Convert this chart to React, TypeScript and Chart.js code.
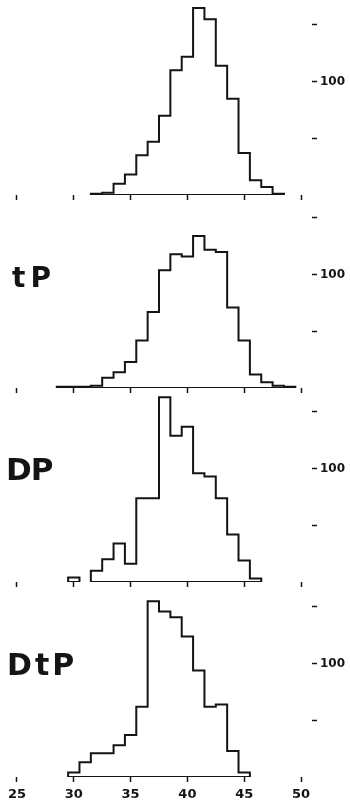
import React, { useEffect, useRef } from "react";
import { Chart, registerables } from "chart.js";

Chart.register(...registerables);

// Histogram bins (bin centres, width 1) and counts for each panel
const pBins = [32, 33, 34, 35, 36, 37, 38, 39, 40, 41, 42, 43, 44, 45, 46, 47, 48];
const pCounts = [1, 2, 10, 18, 35, 47, 70, 110, 122, 165, 155, 114, 85, 37, 13, 7, 1];

const tpBins = [29, 30, 31, 32, 33, 34, 35, 36, 37, 38, 39, 40, 41, 42, 43, 44, 45, 46, 47, 48, 49];
const tpCounts = [1, 1, 1, 2, 9, 14, 23, 42, 67, 104, 118, 116, 134, 122, 120, 71, 42, 12, 5, 2, 1];

const dpBins = [30, 31, 32, 33, 34, 35, 36, 37, 38, 39, 40, 41, 42, 43, 44, 45, 46];
const dpCounts = [4, 0, 10, 20, 34, 16, 74, 74, 163, 129, 137, 96, 93, 74, 42, 19, 3];

const dtpBins = [30, 31, 32, 33, 34, 35, 36, 37, 38, 39, 40, 41, 42, 43, 44, 45];
const dtpCounts = [4, 13, 21, 21, 28, 37, 62, 155, 146, 141, 124, 94, 62, 64, 23, 4];

const panelLabels = ["", "tP", "DP", "DtP"];
const xTickValues = [25, 30, 35, 40, 45, 50];
const yTickValues = [50, 100, 150];
const yLabelledTick = 100;

const INK = "#141414";
const FONT = "'DejaVu Sans', 'Liberation Sans', sans-serif";

// scale geometry
const PX_PER_X = 11.36;
const X_MIN = 25 - 17 / PX_PER_X;
const PLOT_RIGHT = 312;
const X_MAX = X_MIN + PLOT_RIGHT / PX_PER_X;
const AREA_H = 200;
const Y_MAX = AREA_H / (56.67 / 50);
const PAD_TOP = 20;

type Pt = { x: number; y: number | null };

// Closed step outline of each run of non-empty bins
function outline(bins: number[], counts: number[]): Pt[] {
  const pts: Pt[] = [];
  let run: number[] = [];
  const flush = () => {
    if (!run.length) return;
    const a = bins[run[0]] - 0.5;
    const b = bins[run[run.length - 1]] + 0.5;
    if (pts.length) pts.push({ x: a, y: null });
    pts.push({ x: a, y: 0 });
    run.forEach((j) => pts.push({ x: bins[j] - 0.5, y: counts[j] }));
    pts.push({ x: b, y: 0 });
    pts.push({ x: a, y: 0 });
    run = [];
  };
  counts.forEach((c, i) => {
    if (c > 0) run.push(i);
    else flush();
  });
  flush();
  return pts;
}

type PanelProps = {
  bins: number[];
  counts: number[];
  top: number;
  axisHeight: number;
  showXLabels: boolean;
};

function Panel({ bins, counts, top, axisHeight, showXLabels }: PanelProps) {
  const ref = useRef<HTMLCanvasElement>(null);
  const height = PAD_TOP + AREA_H + axisHeight;

  useEffect(() => {
    if (!ref.current) return;
    const chart = new Chart(ref.current, {
      type: "line",
      data: {
        datasets: [
          {
            data: outline(bins, counts) as any,
            borderColor: INK,
            borderWidth: 2,
            pointRadius: 0,
            fill: false,
            stepped: "before",
            spanGaps: false,
            borderJoinStyle: "miter",
          },
        ],
      },
      options: {
        animation: false,
        responsive: false,
        devicePixelRatio: 1,
        events: [],
        layout: { padding: { top: PAD_TOP, left: 0, right: 0, bottom: 0 } },
        plugins: { legend: { display: false }, tooltip: { enabled: false } },
        scales: {
          x: {
            type: "linear",
            min: X_MIN,
            max: X_MAX,
            border: { display: false },
            grid: { drawOnChartArea: false, color: INK, tickLength: 5, tickWidth: 1.5 },
            ticks: {
              display: showXLabels,
              padding: 5,
              color: INK,
              autoSkip: false,
              maxRotation: 0,
              font: { family: FONT, size: 13, weight: "bold" },
            },
            afterBuildTicks: (s: any) => {
              s.ticks = xTickValues.map((v) => ({ value: v }));
            },
            afterFit: (s: any) => {
              s.height = axisHeight;
            },
          },
          y: {
            type: "linear",
            position: "right",
            min: 0,
            max: Y_MAX,
            border: { display: false },
            grid: { drawOnChartArea: false, color: INK, tickLength: 5, tickWidth: 1.5 },
            ticks: {
              padding: 3,
              color: INK,
              font: { family: FONT, size: 12, weight: "bold" },
              callback: (v: any) => (v === yLabelledTick ? String(v) : ""),
            },
            afterBuildTicks: (s: any) => {
              s.ticks = yTickValues.map((v) => ({ value: v }));
            },
            afterFit: (s: any) => {
              s.width = 350 - PLOT_RIGHT;
            },
          },
        },
      },
    });
    return () => chart.destroy();
  }, []);

  return (
    <canvas
      ref={ref}
      width={350}
      height={height}
      style={{ position: "absolute", left: 0, top, width: 350, height, display: "block" }}
    />
  );
}

const labelStyle = (top: number, left: number, size: number, spacing: number): React.CSSProperties => ({
  position: "absolute",
  top,
  left,
  fontFamily: FONT,
  fontWeight: "bold",
  fontSize: size,
  lineHeight: 1,
  letterSpacing: spacing,
  color: INK,
  whiteSpace: "nowrap",
});

export default function App() {
  const baselines = [195, 388, 582, 777];
  const series = [
    [pBins, pCounts],
    [tpBins, tpCounts],
    [dpBins, dpCounts],
    [dtpBins, dtpCounts],
  ];
  return (
    <div
      style={{
        position: "fixed",
        left: 0,
        top: 0,
        width: 350,
        height: 802,
        background: "#fff",
        overflow: "hidden",
      }}
    >
      {series.map(([b, c], i) => {
        const last = i === series.length - 1;
        return (
          <Panel
            key={i}
            bins={b}
            counts={c}
            top={baselines[i] - AREA_H - PAD_TOP}
            axisHeight={last ? 25 : 12}
            showXLabels={last}
          />
        );
      })}
      <div style={labelStyle(263.7, 12, 28, 5)}>{panelLabels[1]}</div>
      <div style={labelStyle(454.4, 6, 31, -1)}>{panelLabels[2]}</div>
      <div style={labelStyle(649.5, 7, 30, 3)}>{panelLabels[3]}</div>
    </div>
  );
}
